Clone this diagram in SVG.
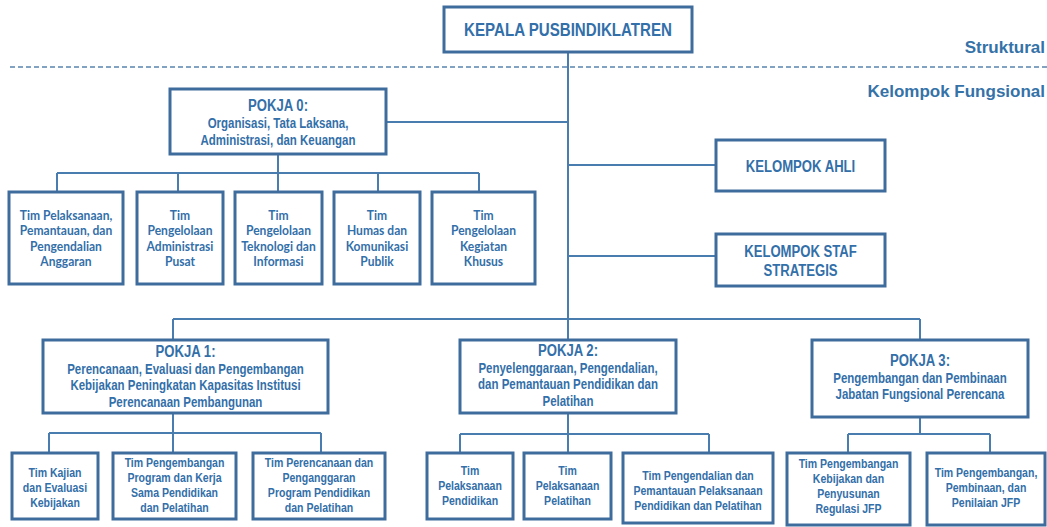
<svg xmlns="http://www.w3.org/2000/svg" width="1047" height="527" viewBox="0 0 1047 527">
<style>
.box{fill:#fff;stroke:#3e6c9c;stroke-width:3}
.ln{fill:none;stroke:#4a7daf;stroke-width:2}
.t{font-family:"Liberation Sans",Arial,sans-serif;font-weight:bold;fill:#336fa9;text-anchor:middle}
.h{font-family:Lato,"Open Sans",sans-serif;font-weight:bold;fill:#336fa9;text-anchor:middle;font-size:12.7px}
.s{font-size:13px}
.m{font-size:14px}
.b{font-size:16px}
.lbl{font-family:"Liberation Sans",Arial,sans-serif;font-weight:bold;fill:#3572a8;font-size:17px;text-anchor:end}
</style>
<rect width="1047" height="527" fill="#fff"/>
<g id="connectors">
<line x1="10" y1="67" x2="1047" y2="67" stroke="#5a84ae" stroke-width="1.6" stroke-dasharray="5 3"/>
<path class="ln" d="M568 52V340M386 122H568M568 165H716M568 256H716"/>
<path class="ln" d="M278 154V173M57 173H479M57 173V192M178 173V192M278 173V192M378 173V192M479 173V192"/>
<path class="ln" d="M173 319H920M173 319V340M920 319V340"/>
<path class="ln" d="M173 413V433M49 433H321M49 433V453M173 433V453M321 433V453"/>
<path class="ln" d="M568 413V434M460 434H709M460 434V453M568 434V453M709 434V453"/>
<path class="ln" d="M920 417V434M848 434H990M848 434V453M990 434V453"/>
</g>
<g id="label-struktural"><text class="lbl" x="1045" y="53">Struktural</text></g>
<g id="label-fungsional"><text class="lbl" x="1045" y="97">Kelompok Fungsional</text></g>
<g id="kepala">
<rect class="box" x="444" y="7" width="248" height="45"/>
<g transform="translate(568,0) scale(0.84,1)"><text class="t" x="0" y="36" font-size="18">KEPALA PUSBINDIKLATREN</text></g>
</g>
<g id="pokja0">
<rect class="box" x="170" y="89" width="216" height="65"/>
<g transform="translate(278,0) scale(0.82,1)">
<text class="t b" x="0" y="111">POKJA 0:</text>
<text class="t m" x="0" y="128">Organisasi, Tata Laksana,</text>
<text class="t m" x="0" y="145">Administrasi, dan Keuangan</text>
</g>
</g>
<g id="tim-anggaran">
<rect class="box" x="9" y="192" width="114" height="92"/>
<g transform="translate(66,0) scale(0.95,1)">
<text class="h" x="0" y="220">Tim  Pelaksanaan,</text>
<text class="h" x="0" y="235.3">Pemantauan, dan</text>
<text class="h" x="0" y="250.6">Pengendalian</text>
<text class="h" x="0" y="265.9">Anggaran</text>
</g>
</g>
<g id="tim-administrasi">
<rect class="box" x="137" y="192" width="86" height="92"/>
<g transform="translate(180,0) scale(0.95,1)">
<text class="h" x="0" y="220">Tim</text>
<text class="h" x="0" y="235.3">Pengelolaan</text>
<text class="h" x="0" y="250.6">Administrasi</text>
<text class="h" x="0" y="265.9">Pusat</text>
</g>
</g>
<g id="tim-teknologi">
<rect class="box" x="235" y="192" width="87" height="92"/>
<g transform="translate(278.5,0) scale(0.95,1)">
<text class="h" x="0" y="220">Tim</text>
<text class="h" x="0" y="235.3">Pengelolaan</text>
<text class="h" x="0" y="250.6">Teknologi dan</text>
<text class="h" x="0" y="265.9">Informasi</text>
</g>
</g>
<g id="tim-humas">
<rect class="box" x="334" y="192" width="86" height="92"/>
<g transform="translate(377,0) scale(0.95,1)">
<text class="h" x="0" y="220">Tim</text>
<text class="h" x="0" y="235.3">Humas dan</text>
<text class="h" x="0" y="250.6">Komunikasi</text>
<text class="h" x="0" y="265.9">Publik</text>
</g>
</g>
<g id="tim-khusus">
<rect class="box" x="432" y="192" width="103" height="92"/>
<g transform="translate(483.5,0) scale(0.95,1)">
<text class="h" x="0" y="220">Tim</text>
<text class="h" x="0" y="235.3">Pengelolaan</text>
<text class="h" x="0" y="250.6">Kegiatan</text>
<text class="h" x="0" y="265.9">Khusus</text>
</g>
</g>
<g id="kelompok-ahli">
<rect class="box" x="716" y="140" width="169" height="51"/>
<g transform="translate(800.5,0) scale(0.82,1)"><text class="t b" x="0" y="172">KELOMPOK AHLI</text></g>
</g>
<g id="kelompok-staf">
<rect class="box" x="716" y="234" width="169" height="52"/>
<g transform="translate(800.5,0) scale(0.82,1)">
<text class="t b" x="0" y="257">KELOMPOK STAF</text>
<text class="t b" x="0" y="276">STRATEGIS</text>
</g>
</g>
<g id="pokja1">
<rect class="box" x="43" y="340" width="285" height="73"/>
<g transform="translate(185.5,0) scale(0.82,1)">
<text class="t b" x="0" y="357">POKJA 1:</text>
<text class="t m" x="0" y="374">Perencanaan, Evaluasi dan Pengembangan</text>
<text class="t m" x="0" y="390">Kebijakan Peningkatan Kapasitas Institusi</text>
<text class="t m" x="0" y="407">Perencanaan Pembangunan</text>
</g>
</g>
<g id="tim-kajian">
<rect class="box" x="12" y="453" width="86" height="66"/>
<g transform="translate(55,0) scale(0.81,1)">
<text class="t s" x="0" y="477">Tim Kajian</text>
<text class="t s" x="0" y="492">dan Evaluasi</text>
<text class="t s" x="0" y="507">Kebijakan</text>
</g>
</g>
<g id="tim-pengembangan-program">
<rect class="box" x="113" y="453" width="123" height="66"/>
<g transform="translate(174.5,0) scale(0.81,1)">
<text class="t s" x="0" y="467">Tim Pengembangan</text>
<text class="t s" x="0" y="482">Program dan Kerja</text>
<text class="t s" x="0" y="497">Sama Pendidikan</text>
<text class="t s" x="0" y="512">dan Pelatihan</text>
</g>
</g>
<g id="tim-perencanaan">
<rect class="box" x="253" y="453" width="132" height="66"/>
<g transform="translate(319,0) scale(0.81,1)">
<text class="t s" x="0" y="467">Tim  Perencanaan dan</text>
<text class="t s" x="0" y="482">Penganggaran</text>
<text class="t s" x="0" y="497">Program Pendidikan</text>
<text class="t s" x="0" y="512">dan Pelatihan</text>
</g>
</g>
<g id="pokja2">
<rect class="box" x="460" y="340" width="216" height="73"/>
<g transform="translate(568,0) scale(0.82,1)">
<text class="t b" x="0" y="356">POKJA 2:</text>
<text class="t m" x="0" y="373">Penyelenggaraan, Pengendalian,</text>
<text class="t m" x="0" y="389">dan Pemantauan Pendidikan dan</text>
<text class="t m" x="0" y="406">Pelatihan</text>
</g>
</g>
<g id="tim-pendidikan">
<rect class="box" x="427" y="453" width="86" height="66"/>
<g transform="translate(470,0) scale(0.81,1)">
<text class="t s" x="0" y="475">Tim</text>
<text class="t s" x="0" y="490">Pelaksanaan</text>
<text class="t s" x="0" y="505">Pendidikan</text>
</g>
</g>
<g id="tim-pelatihan">
<rect class="box" x="524" y="453" width="87" height="66"/>
<g transform="translate(567.5,0) scale(0.81,1)">
<text class="t s" x="0" y="475">Tim</text>
<text class="t s" x="0" y="490">Pelaksanaan</text>
<text class="t s" x="0" y="505">Pelatihan</text>
</g>
</g>
<g id="tim-pengendalian">
<rect class="box" x="623" y="453" width="150" height="70"/>
<g transform="translate(698,0) scale(0.81,1)">
<text class="t s" x="0" y="480">Tim  Pengendalian dan</text>
<text class="t s" x="0" y="495">Pemantauan Pelaksanaan</text>
<text class="t s" x="0" y="510">Pendidikan dan Pelatihan</text>
</g>
</g>
<g id="pokja3">
<rect class="box" x="812" y="340" width="216" height="77"/>
<g transform="translate(920,0) scale(0.82,1)">
<text class="t b" x="0" y="366">POKJA 3:</text>
<text class="t m" x="0" y="383">Pengembangan dan Pembinaan</text>
<text class="t m" x="0" y="399">Jabatan Fungsional Perencana</text>
</g>
</g>
<g id="tim-regulasi">
<rect class="box" x="787" y="453" width="123" height="72"/>
<g transform="translate(848.5,0) scale(0.81,1)">
<text class="t s" x="0" y="468">Tim Pengembangan</text>
<text class="t s" x="0" y="483">Kebijakan dan</text>
<text class="t s" x="0" y="498">Penyusunan</text>
<text class="t s" x="0" y="513">Regulasi JFP</text>
</g>
</g>
<g id="tim-penilaian">
<rect class="box" x="927" y="453" width="118" height="72"/>
<g transform="translate(986,0) scale(0.81,1)">
<text class="t s" x="0" y="477">Tim Pengembangan,</text>
<text class="t s" x="0" y="492">Pembinaan, dan</text>
<text class="t s" x="0" y="507">Penilaian JFP</text>
</g>
</g>
</svg>
